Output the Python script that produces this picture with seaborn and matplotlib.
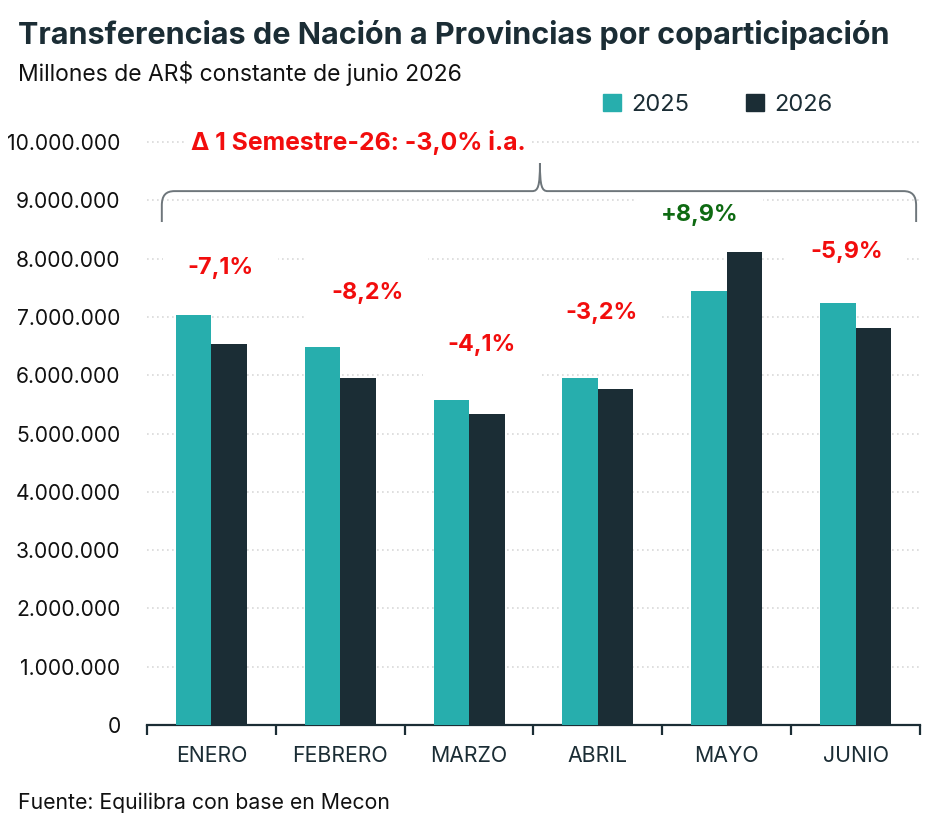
#!/usr/bin/env python3
"""
Transferencias de Nacion a Provincias por coparticipacion - grouped bars
"""

import numpy as np
import pandas as pd
import matplotlib
matplotlib.use("Agg")
import matplotlib.pyplot as plt
from matplotlib.path import Path
from matplotlib.patches import PathPatch, Patch
from matplotlib.ticker import FuncFormatter, FixedLocator
import seaborn as sns

# data (millones de AR$ constantes)
months = ["ENERO", "FEBRERO", "MARZO", "ABRIL", "MAYO", "JUNIO"]
values_2025 = [7030000, 6480000, 5570000, 5950000, 7440000, 7240000]
values_2026 = [6530000, 5950000, 5340000, 5760000, 8110000, 6810000]
var_labels = ["-7,1%", "-8,2%", "-4,1%", "-3,2%", "+8,9%", "-5,9%"]
# label anchor (offset from category centre, height in AR$)
label_dx = [0.07, 0.21, 0.10, 0.03, -0.21, -0.07]
label_y = [7840000, 7410000, 6520000, 7070000, 8750000, 8110000]
semester_label = "Δ 1 Semestre-26: -3,0% i.a."

TEAL = "#27AEAD"
DARK = "#1B2D35"
RED = "#F20D0D"
GREEN = "#0E6A12"
FONT = "Inter"

df = pd.DataFrame({
    "mes": months * 2,
    "anio": ["2025"] * len(months) + ["2026"] * len(months),
    "valor": values_2025 + values_2026,
})

sns.set_theme(style="white")
plt.rcParams["font.family"] = [FONT, "DejaVu Sans"]

fig = plt.figure(figsize=(9.45, 8.27), dpi=100)
ax = fig.add_axes([147 / 945, 1 - 725 / 827, (920 - 147) / 945, 0.74])

sns.barplot(data=df, x="mes", y="valor", hue="anio", order=months,
            palette=[TEAL, DARK], width=0.55, saturation=1, ax=ax,
            legend=False, zorder=3, linewidth=0)

ax.set_xlim(-0.5, len(months) - 0.5)
ax.set_ylim(0, 10500000)
ax.set_yticks(np.arange(0, 10000001, 1000000))
ax.yaxis.set_major_formatter(FuncFormatter(lambda v, p: f"{int(v):,}".replace(",", ".")))
ax.grid(axis="y", color="#D9D9D9", linestyle=(0, (1, 2)), linewidth=1.2, zorder=0)
ax.set_axisbelow(True)
ax.set_xlabel("")
ax.set_ylabel("")

for s in ["top", "right", "left"]:
    ax.spines[s].set_visible(False)
ax.spines["bottom"].set_color(DARK)
ax.spines["bottom"].set_linewidth(1.6)

ax.tick_params(axis="y", length=0, pad=19, labelsize=15.2, labelcolor="#111111")
ax.tick_params(axis="x", which="major", length=0, pad=15, labelsize=15.3, labelcolor=DARK)
ax.xaxis.set_minor_locator(FixedLocator(np.arange(-0.5, len(months), 1.0)))
ax.tick_params(axis="x", which="minor", bottom=True, length=7, width=1.6, color=DARK,
               direction="out")

# variation labels
for i, (txt, dx, y) in enumerate(zip(var_labels, label_dx, label_y)):
    col = GREEN if txt.startswith("+") else RED
    ax.text(i + dx, y, txt, ha="center", va="center", fontsize=16.8, fontweight="bold",
            color=col, zorder=2,
            bbox=dict(boxstyle="square,pad=1.05", fc="white", ec="none"))

# brace over the semester
x0, x1, xm = -0.385, 5.47, 2.55
yb, yh, yt = 8630000, 9160000, 9640000
rx, ry = 0.1, 250000
verts = [
    (x0, yb), (x0, yh - ry),
    (x0, yh - ry * 0.3), (x0 + rx * 0.3, yh), (x0 + rx, yh),
    (xm - 0.06, yh),
    (xm - 0.015, yh), (xm, yh + 80000), (xm, yt),
    (xm, yh + 80000), (xm + 0.015, yh), (xm + 0.06, yh),
    (x1 - rx, yh),
    (x1 - rx * 0.3, yh), (x1, yh - ry * 0.3), (x1, yh - ry),
    (x1, yb),
]
codes = [Path.MOVETO, Path.LINETO,
         Path.CURVE4, Path.CURVE4, Path.CURVE4,
         Path.LINETO,
         Path.CURVE4, Path.CURVE4, Path.CURVE4,
         Path.CURVE4, Path.CURVE4, Path.CURVE4,
         Path.LINETO,
         Path.CURVE4, Path.CURVE4, Path.CURVE4,
         Path.LINETO]
ax.add_patch(PathPatch(Path(verts, codes), fc="none", ec="#6E767B", lw=1.4,
                       zorder=5, clip_on=False))

ax.text(1.14, 10000000, semester_label, ha="center", va="center", fontsize=17.8,
        fontweight="bold", color=RED, zorder=4,
        bbox=dict(boxstyle="square,pad=0.25", fc="white", ec="none"))

# legend
handles = [Patch(color=TEAL, label="2025"), Patch(color=DARK, label="2026")]
fig.legend(handles=handles, loc="center left", bbox_to_anchor=(0.616, 1 - 105 / 827),
           ncol=2, frameon=False, fontsize=17, handlelength=0.75, handleheight=0.75,
           handletextpad=0.45, columnspacing=2.4, labelcolor=DARK)

# titles
fig.text(18 / 945, 1 - 35 / 827, "Transferencias de Nación a Provincias por coparticipación",
         ha="left", va="center", fontsize=22, fontweight="bold", color=DARK)
fig.text(18 / 945, 1 - 73 / 827, "Millones de AR$ constante de junio 2026",
         ha="left", va="center", fontsize=16.5, color="#111111")
fig.text(18 / 945, 1 - 803 / 827, "Fuente: Equilibra con base en Mecon",
         ha="left", va="center", fontsize=15.3, color="#111111")

fig.savefig("out.png", dpi=100)
